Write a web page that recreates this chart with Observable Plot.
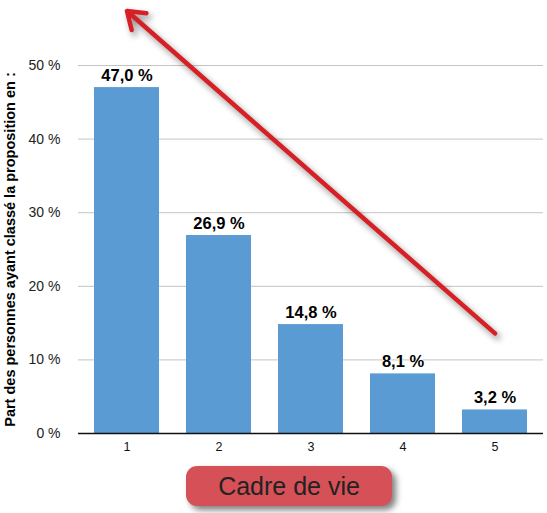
<!DOCTYPE html>
<html>
<head>
<meta charset="utf-8">
<script src="https://cdn.jsdelivr.net/npm/d3@7"></script>
<script src="https://cdn.jsdelivr.net/npm/@observablehq/plot@0.6"></script>
<style>
  html, body { margin: 0; padding: 0; background: #fff; }
  #wrap { position: relative; width: 547px; height: 513px; font-family: "Liberation Sans", Arial, Helvetica, sans-serif; }
  #wrap svg { position: absolute; left: 0; top: 0; overflow: visible; }
  #wrap svg g[aria-label="arrow"] { filter: drop-shadow(3px 4px 3px rgba(0,0,0,0.45)); }
  #btn {
    position: absolute; left: 186px; top: 466px; width: 206px; height: 40px;
    background: #d65157; border-radius: 11px;
    box-shadow: 4px 4px 6px rgba(0,0,0,0.5);
    color: #222; font-size: 25px; line-height: 40px; text-align: center;
  }
</style>
</head>
<body>
<div id="wrap"></div>
<script>
const categories = ["1", "2", "3", "4", "5"];
const values = [47.0, 26.9, 14.8, 8.1, 3.2];
const yTicks = [0, 10, 20, 30, 40, 50];
const yLabel = "Part des personnes ayant classé la proposition en :";
const xTitle = "Cadre de vie";
// arrow annotation: from near bar 5 up to above bar 1 (in data units)
const arrowFrom = {cat: "5", value: 13.6};
const arrowTo = {cat: "1", value: 57.4};

const data = categories.map((c, i) => ({cat: c, value: values[i]}));
const fmt = v => v.toFixed(1).replace(".", ",") + " %";

const chart = Plot.plot({
  width: 547,
  height: 460,
  marginLeft: 78,
  marginRight: 4,
  marginTop: 65,
  marginBottom: 27,
  style: {fontFamily: '"Liberation Sans", Arial, Helvetica, sans-serif', background: "transparent", overflow: "visible"},
  x: {domain: categories, paddingInner: 0.29, paddingOuter: 0.15, label: null},
  y: {domain: [0, 50], label: null},
  marks: [
    Plot.gridY(yTicks, {stroke: "#c4c4c4", strokeOpacity: 1, strokeWidth: 1}),
    Plot.axisY(yTicks, {tickSize: 0, tickPadding: 18, fontSize: 14, fill: "#222", tickFormat: d => d + " %",
      label: yLabel, labelAnchor: "center", labelArrow: "none", labelOffset: 74}),
    Plot.axisX({tickSize: 0, tickPadding: 9, fontSize: 12.5, fill: "#111", label: null}),
    Plot.barY(data, {x: "cat", y: "value", fill: "#5b9bd3"}),
    Plot.ruleY([0], {stroke: "#111", strokeWidth: 1.5}),
    Plot.text(data, {x: "cat", y: "value", text: d => fmt(d.value), dy: -7, lineAnchor: "bottom",
      fontSize: 16.5, fontWeight: "bold", fill: "#000", stroke: "#fff", strokeWidth: 1.5, paintOrder: "stroke"}),
    Plot.arrow([{x1: arrowFrom.cat, y1: arrowFrom.value, x2: arrowTo.cat, y2: arrowTo.value}],
      {x1: "x1", y1: "y1", x2: "x2", y2: "y2", stroke: "#d71f26", strokeWidth: 4.5, headLength: 6.5, headAngle: 70})
  ]
});
const wrap = document.getElementById("wrap");
wrap.appendChild(chart);
chart.querySelectorAll('g[aria-label="y-axis label"] text').forEach(t => {
  t.setAttribute("font-weight", "bold");
  t.setAttribute("font-size", "14.5");
  t.setAttribute("fill", "#000");
});
const btn = document.createElement("div");
btn.id = "btn";
btn.textContent = xTitle;
wrap.appendChild(btn);
</script>
</body>
</html>
